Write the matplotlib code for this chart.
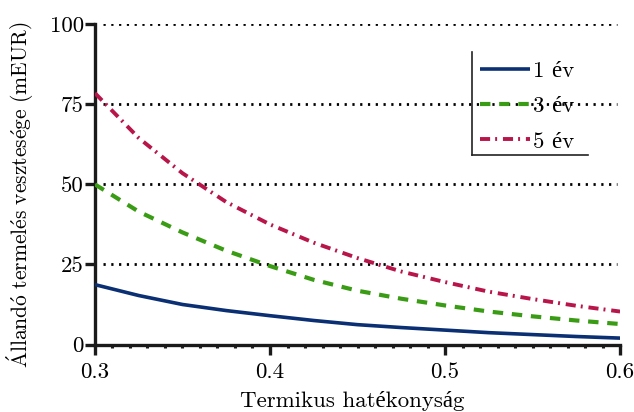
import matplotlib
matplotlib.use("Agg")
import matplotlib.pyplot as plt
from matplotlib.lines import Line2D

# Thermal efficiency and the constant production loss for three horizons
efficiency = [0.300, 0.325, 0.350, 0.375, 0.400, 0.425, 0.450,
              0.475, 0.500, 0.525, 0.550, 0.575, 0.600]
loss_1yr = [18.7, 15.3, 12.5, 10.6, 9.0, 7.5, 6.2, 5.3, 4.5, 3.7, 3.1, 2.5, 2.0]
loss_3yr = [50.0, 41.5, 35.0, 29.3, 24.5, 20.2, 16.8, 14.3, 12.2, 10.3, 8.8, 7.5, 6.4]
loss_5yr = [78.5, 64.5, 53.5, 44.5, 37.5, 31.8, 27.0, 22.8, 19.5, 16.5, 14.2, 12.1, 10.3]

series_labels = ["1 év", "3 év", "5 év"]
x_ticks = [0.3, 0.4, 0.5, 0.6]
y_ticks = [0, 25, 50, 75, 100]

plt.rcParams["font.family"] = ["cmr10", "Liberation Serif"]
plt.rcParams["axes.formatter.use_mathtext"] = True
plt.rcParams["mathtext.fontset"] = "cm"

FS = 16.5

fig = plt.figure(figsize=(6.34, 4.12), dpi=100)
ax = fig.add_axes([0.1498, 0.1638, 0.8282, 0.7772])

blue = "#0b2f73"
green = "#3a9c15"
red = "#b8154a"

# dotted horizontal guides
for yv in y_ticks[1:]:
    ax.axhline(yv, xmin=0.015, xmax=0.995, color="black", lw=2.0,
               ls=(0, (0.8, 2.0)), zorder=1)

l1, = ax.plot(efficiency, loss_1yr, color=blue, lw=2.6, solid_capstyle="butt", zorder=3)
l3, = ax.plot(efficiency, loss_3yr, color=green, lw=3.0, ls=(0, (2.5, 2.1)), zorder=3)
l5, = ax.plot(efficiency, loss_5yr, color=red, lw=2.8,
              ls=(0, (2.6, 1.3, 0.5, 1.5)), zorder=3)

ax.set_xlim(0.3, 0.6)
ax.set_ylim(0, 100)
ax.set_xticks(x_ticks)
ax.set_xticklabels(["0.3", "0.4", "0.5", "0.6"])
ax.set_yticks(y_ticks)
ax.set_yticklabels([str(v) for v in y_ticks])
ax.set_xticks([0.3 + 0.01 * i for i in range(31)], minor=True)

for side in ("top", "right"):
    ax.spines[side].set_visible(False)
for side in ("left", "bottom"):
    ax.spines[side].set_linewidth(2.4)
    ax.spines[side].set_color("#1a1a1a")

ax.tick_params(axis="both", which="major", direction="out", length=7,
               width=2.4, color="#1a1a1a", labelsize=FS, pad=6)
ax.tick_params(axis="y", which="major", pad=1)
ax.tick_params(axis="x", which="minor", direction="out", length=2.5,
               width=2.2, color="#1a1a1a")

ax.set_xlabel("Termikus hatékonyság", fontsize=FS)
ax.xaxis.set_label_coords(0.49, -0.145)
ax.set_ylabel(r"$\mathrm{\acute{A}lland\acute{o}\ termel\acute{e}s\ vesztes\acute{e}ge\ (mEUR)}$",
              fontsize=15.5)
ax.yaxis.set_label_coords(-0.112, 0.467)

# legend with a left/bottom frame
leg = ax.legend([l1, l3, l5], series_labels, loc="upper left",
                bbox_to_anchor=(0.733, 0.885), frameon=False, fontsize=FS,
                handlelength=2.2, handletextpad=0.12, labelspacing=0.66,
                borderaxespad=0, borderpad=0)
frame_x0, frame_x1 = 471.7 / 634, 588.3 / 634
frame_y0, frame_y1 = 1 - 155 / 412, 1 - 51.7 / 412
fig.add_artist(Line2D([frame_x0, frame_x0], [frame_y0, frame_y1],
                      transform=fig.transFigure, color="#222222", lw=1.2))
fig.add_artist(Line2D([frame_x0, frame_x1], [frame_y0, frame_y0],
                      transform=fig.transFigure, color="#222222", lw=1.2))

fig.savefig("out.png", dpi=100)
